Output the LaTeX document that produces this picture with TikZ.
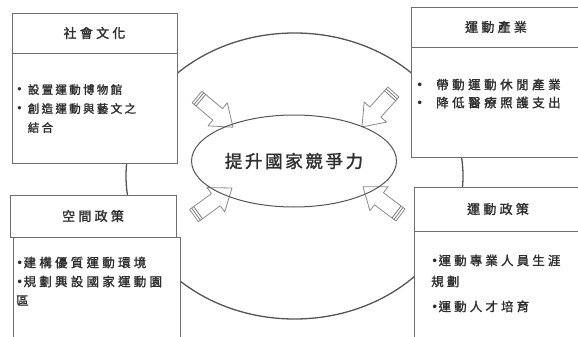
\documentclass[tikz,border=0pt]{standalone}
\usepackage{fontspec}
\newfontfamily\cjk[FakeBold=1.5]{Noto Sans CJK TC}
\newfontfamily\dotfont{DejaVu Sans}
\usetikzlibrary{shapes.geometric}
\usetikzlibrary{positioning}

\definecolor{boxgray}{HTML}{6E6E6E}
\definecolor{ringgray}{HTML}{555555}
\definecolor{arrowgray}{HTML}{8A8A8A}
\definecolor{ink}{HTML}{2E2E2E}

\newcommand{\dotmark}{{\dotfont•}}

\begin{document}
\begin{tikzpicture}[
		x=1pt, y=-1pt,
		head/.style={
			shape=rectangle,
			draw=boxgray,
			fill=white,
			line width=0.9pt,
			inner sep=0pt,
			outer sep=0pt,
			minimum height=40pt,
			anchor=north west,
			text=ink,
			font={\cjk\fontsize{13}{15}\selectfont\addfontfeatures{LetterSpace=25}}
		},
		body/.style={
			shape=rectangle,
			draw=boxgray,
			fill=white,
			line width=0.9pt,
			inner sep=0pt,
			outer sep=0pt
		},
		items/.style 2 args={
			inner sep=0pt,
			align=left,
			text=ink,
			font={\cjk\fontsize{#1}{19}\selectfont\addfontfeatures{LetterSpace=#2}}
		},
		inarrow/.pic={
			\draw[arrowgray, fill=white, line width=0.8pt, line join=round]
				(0,-7.5) -- (27,-7.5) -- (27,-15) -- (47,0) -- (27,15) -- (27,7.5) -- (0,7.5) -- cycle;
			\draw[arrowgray!80!black, line width=0.7pt] (2.5,-7.5) -- (2.5,7.5) (5,-7.5) -- (5,7.5);
		}
		]
		
		\useasboundingbox (0,0) rectangle (578,337);
		\clip (0,0) rectangle (578,337);
		
		\node[
		ellipse,
		draw=ringgray,
		line width=1.3pt,
		minimum width=337pt,
		minimum height=286pt
		] (ring) at (294.5,176) {};
		
		% top left
		\node[head, minimum width=165pt] (culturehead) at (12,13) {社會文化};
		\node[body, minimum width=165pt, minimum height=110pt, below right=0pt and 0pt of culturehead.south west] (culturebody) {};
		\node[items={11.5}{20}, below right=31pt and 4pt of culturebody.north west] (culturetext)
		{\dotmark\ 設置運動博物館\\
			\dotmark\ 創造運動與藝文之\\
			\phantom{\dotmark\ }結合};
		
		% top right
		\node[head, minimum width=170pt] (industryhead) at (411,7) {運動產業};
		\node[body, minimum width=170pt, minimum height=110pt, below right=0pt and 0pt of industryhead.south west] (industrybody) {};
		\node[items={12.5}{28}, below right=31.5pt and 5pt of industrybody.north west] (industrytext)
		{\dotmark\ \ 帶動運動休閒產業\\[-1pt]
			\dotmark\ \ 降低醫療照護支出};
		
		% bottom left
		\node[head, minimum width=166pt, minimum height=42pt] (spacehead) at (10,195) {空間政策};
		\node[body, minimum width=167pt, minimum height=120pt, below right=0pt and 3pt of spacehead.south west] (spacebody) {};
		\node[items={12.5}{26}, below right=19.5pt and 3pt of spacebody.north west] (spacetext)
		{\dotmark 建構優質運動環境\\
			\dotmark 規劃興設國家運動園\\
			區};
		
		% bottom right
		\node[head, minimum width=168pt, minimum height=44pt] (policyhead) at (414,187) {運動政策};
		\node[body, minimum width=170pt, minimum height=120pt, below right=0pt and 0pt of policyhead.south west] (policybody) {};
		\node[items={12.5}{25}, below right=23.5pt and 17pt of policybody.north west] (policytext)
		{\dotmark 運動專業人員生涯\\[2pt]
			規劃\\[6pt]
			\dotmark 運動人才培育};
		
		%%%%%%%%%%
		
		\pic[rotate=-40] (ularrow) at (197,97) {inarrow};
		\pic[rotate=228] (urarrow) at (393.4,92) {inarrow};
		\pic[rotate=36] (llarrow) at (194,215.6) {inarrow};
		\pic[rotate=143] (lrarrow) at (400.5,215) {inarrow};
		
		\node[
		ellipse,
		draw=ringgray,
		line width=1pt,
		minimum width=172pt,
		minimum height=92pt,
		text=ink,
		font={\cjk\fontsize{17.5}{20}\selectfont\addfontfeatures{LetterSpace=15}}
		] (goal) at (294,161) {提升國家競爭力};
		
	\end{tikzpicture}
\end{document}
